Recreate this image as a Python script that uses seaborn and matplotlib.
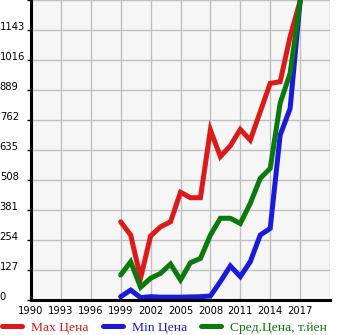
import matplotlib
matplotlib.use("Agg")
import matplotlib.pyplot as plt
import seaborn as sns
import pandas as pd
from matplotlib.lines import Line2D

years = list(range(1999, 2018))
max_price = [331, 275, 93, 271, 310, 331, 456, 433, 433, 720, 607, 653, 722, 677,
             797, 917, 924, 1115, 1265]
min_price = [14, 42, 10, 14, 12, 12, 12, 13, 14, 17, 78, 144, 99, 162,
             275, 303, 698, 811, 1265]
avg_price = [106, 162, 54, 92, 113, 152, 85, 158, 176, 275, 346, 346, 324, 409,
             515, 557, 833, 960, 1265]

series_names = ["Max Цена", "Min Цена", "Сред.Цена, т.йен"]
series_colors = ["#dd1a1a", "#1a1add", "#0a7a0a"]
x_ticks = [1990, 1993, 1996, 1999, 2002, 2005, 2008, 2011, 2014, 2017]
y_ticks = [0, 127, 254, 381, 508, 635, 762, 889, 1016, 1143]

df = pd.DataFrame({
    "year": years * 3,
    "value": max_price + min_price + avg_price,
    "series": [series_names[0]] * len(years)
    + [series_names[1]] * len(years)
    + [series_names[2]] * len(years),
})

sns.set_theme(style="whitegrid")
plt.rcParams["font.family"] = ["DejaVu Sans"]

fig = plt.figure(figsize=(3.45, 3.35), dpi=100)
ax = fig.add_axes([31 / 345, 35 / 335, 299 / 345, 300 / 335])
ax.set_facecolor("#f6f6f6")

sns.lineplot(data=df, x="year", y="value", hue="series", hue_order=series_names,
             palette=series_colors, linewidth=3.6, ax=ax, legend=False,
             solid_capstyle="round", solid_joinstyle="miter")

ax.set_xlim(1990, 2020)
ax.set_ylim(0, 1270)
ax.set_xticks(x_ticks + [2020])
ax.set_xticklabels([str(t) for t in x_ticks] + [""])
ax.set_yticks(y_ticks + [1270])
ax.set_yticklabels([str(t) for t in y_ticks] + [""])
ax.grid(True, color="#c0c0c0", linewidth=1.0)
ax.set_xlabel("")
ax.set_ylabel("")

for side in ["top", "right"]:
    ax.spines[side].set_visible(False)
for side in ["left", "bottom"]:
    ax.spines[side].set_visible(True)
    ax.spines[side].set_color("black")
    ax.spines[side].set_linewidth(2.2)

ax.tick_params(axis="y", length=3, width=1, color="black", pad=19.5,
               labelsize=7.2, labelcolor="black", left=True)
ax.tick_params(axis="x", length=0, pad=4, labelsize=7.2, labelcolor="black")
for lbl in ax.get_yticklabels():
    lbl.set_horizontalalignment("left")
    lbl.set_verticalalignment("baseline")

handles = [Line2D([0], [0], color=c, linewidth=3.6, solid_capstyle="round")
           for c in series_colors]
leg = fig.legend(handles, series_names, loc="lower left",
                 bbox_to_anchor=(2 / 345, 1 / 335), borderpad=0, borderaxespad=0,
                 ncol=3, frameon=False, handlelength=1.5, handletextpad=0.65,
                 columnspacing=1.05, prop={"family": "Liberation Serif", "size": 9.7})
for txt, c in zip(leg.get_texts(), series_colors):
    txt.set_color(c)

fig.savefig("out.png", dpi=100, facecolor="white")
